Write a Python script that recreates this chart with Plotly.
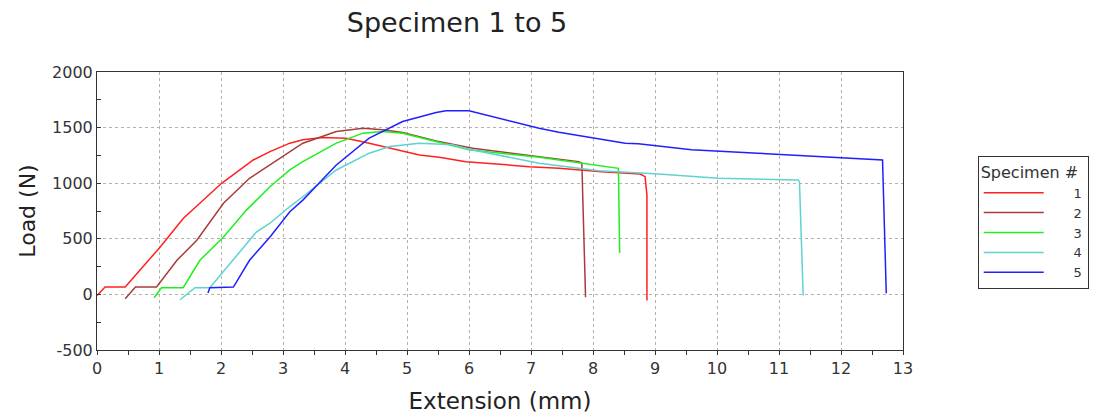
import plotly.graph_objects as go

# ---- data ----
names = ["1", "2", "3", "4", "5"]

s1_x = [0, 0.13, 0.455, 1.02, 1.39, 2.01, 2.52, 2.79, 3.11, 3.32, 3.64, 4.02, 4.39, 4.72, 5.20, 5.52, 5.95, 6.97, 7.45, 8.14, 8.76, 8.84, 8.87, 8.87]
s1_y = [-10, 66, 66, 427, 683, 999, 1209, 1284, 1360, 1390, 1411, 1405, 1360, 1315, 1254, 1234, 1194, 1149, 1134, 1104, 1083, 1059, 893, -54]

s2_x = [0.455, 0.62, 0.96, 1.29, 1.61, 2.04, 2.46, 2.79, 3.11, 3.32, 3.86, 4.29, 4.61, 4.93, 5.47, 6.06, 7.13, 7.77, 7.82, 7.88]
s2_y = [-39, 66, 66, 307, 487, 819, 1044, 1164, 1284, 1360, 1465, 1495, 1480, 1455, 1380, 1315, 1239, 1194, 1180, -25]

s3_x = [0.92, 1.04, 1.39, 1.66, 2.04, 2.41, 2.79, 3.11, 3.32, 3.86, 4.29, 4.61, 4.93, 5.47, 6.0, 7.13, 7.82, 8.39, 8.41, 8.43]
s3_y = [-30, 60, 60, 307, 517, 758, 968, 1119, 1194, 1360, 1450, 1465, 1450, 1375, 1300, 1234, 1180, 1134, 1134, 373]

s4_x = [1.34, 1.58, 1.82, 2.14, 2.57, 2.79, 3.11, 3.32, 3.86, 4.39, 4.72, 5.20, 5.73, 6.0, 7.13, 8.09, 8.73, 9.06, 10.02, 11.31, 11.33, 11.39]
s4_y = [-48, 60, 60, 277, 560, 640, 790, 878, 1119, 1270, 1330, 1360, 1345, 1306, 1180, 1113, 1095, 1083, 1044, 1029, 1014, -10]

s5_x = [1.79, 1.82, 2.20, 2.46, 2.79, 3.11, 3.32, 3.86, 4.39, 4.93, 5.47, 5.63, 6.0, 6.59, 7.13, 7.45, 7.93, 8.52, 8.73, 9.59, 10.66, 11.74, 12.59, 12.67, 12.73]
s5_y = [12, 60, 66, 307, 517, 743, 848, 1164, 1405, 1555, 1636, 1652, 1652, 1570, 1495, 1459, 1414, 1360, 1354, 1300, 1270, 1239, 1216, 1209, 10]

x_ticks = [0, 1, 2, 3, 4, 5, 6, 7, 8, 9, 10, 11, 12, 13]
y_ticks = [-500, 0, 500, 1000, 1500, 2000]
y_tick_text = ["-500", "0", "500", "1000", "1500", "2000"]

colors = ["#ff2020", "#a83c3c", "#1ef01e", "#5fd2d2", "#2020ff"]

series = [(s1_x, s1_y), (s2_x, s2_y), (s3_x, s3_y), (s4_x, s4_y), (s5_x, s5_y)]

fig = go.Figure()
for name, (xs, ys), c in zip(names, series, colors):
    fig.add_trace(go.Scatter(x=xs, y=ys, mode="lines", name="\u00a0" * 6 + name,
                             line=dict(color=c, width=1.5)))

font_main = "DejaVu Sans, Verdana, sans-serif"
grid_c = "#b5b1a6"
axis_c = "#333333"

fig.update_layout(
    width=1101, height=416,
    margin=dict(l=97, r=195, t=72, b=66),
    paper_bgcolor="white", plot_bgcolor="white",
    font=dict(family=font_main, color="#333333", size=16),
    title=dict(text="Specimen 1 to 5", x=457/1101, xanchor="center",
               xref="container", yref="container", y=1-23/416, yanchor="middle",
               font=dict(size=27, color="#222222")),
    legend=dict(title=dict(text="Specimen #", font=dict(size=16)),
                x=1.0927, y=0.698, xanchor="left", yanchor="top",
                bordercolor="#333333", borderwidth=1, bgcolor="white",
                font=dict(size=13), tracegroupgap=0, itemwidth=60),
    showlegend=True,
)

fig.update_xaxes(range=[0, 13], tickmode="array", tickvals=x_ticks, automargin=False,
                 showline=True, linecolor=axis_c, linewidth=1, mirror=True,
                 ticks="outside", ticklen=4, tickcolor=axis_c,
                 minor=dict(dtick=0.5, tick0=0, ticks="outside", ticklen=4, tickcolor=axis_c, showgrid=False),
                 showgrid=True, gridcolor=grid_c, griddash="dot", gridwidth=1,
                 zeroline=False,
                 title=dict(text="Extension (mm)", font=dict(size=23, color="#222222"), standoff=15))

fig.update_yaxes(range=[-500, 2000], tickmode="array", tickvals=y_ticks, ticktext=y_tick_text,
                 automargin=False,
                 showline=True, linecolor=axis_c, linewidth=1, mirror=True,
                 ticks="inside", ticklen=4, tickcolor=axis_c,
                 minor=dict(dtick=250, tick0=0, ticks="inside", ticklen=4, tickcolor=axis_c, showgrid=False),
                 showgrid=True, gridcolor=grid_c, griddash="dot", gridwidth=1,
                 zeroline=False,
                 title=dict(text="Load (N)", font=dict(size=22, color="#222222"), standoff=10))

fig.write_html("out.html")
